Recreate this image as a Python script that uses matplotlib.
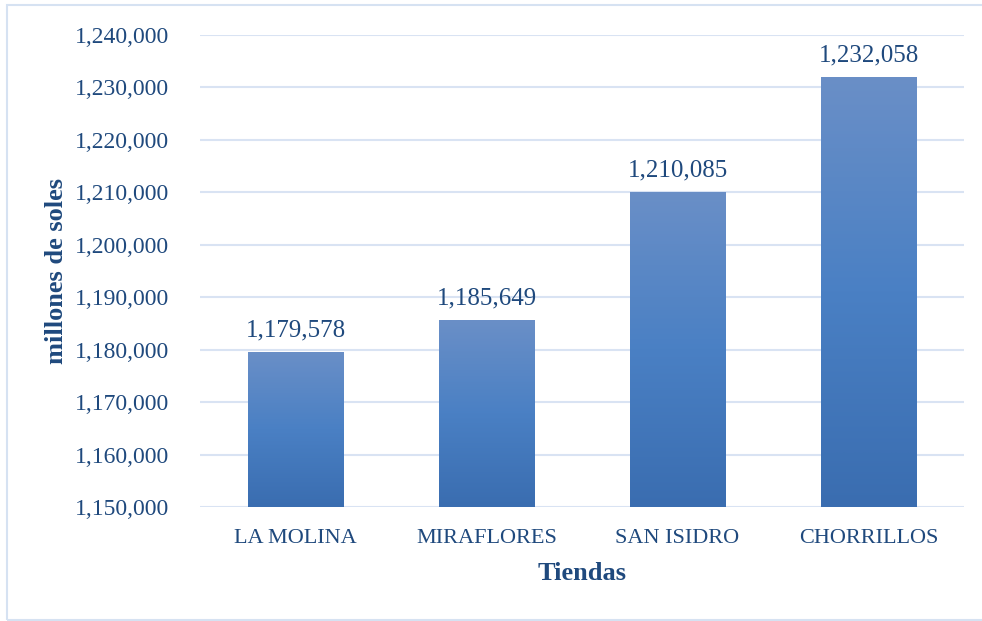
import matplotlib
matplotlib.use("Agg")
import matplotlib.pyplot as plt
import numpy as np
from matplotlib.patches import Rectangle
from matplotlib.colors import LinearSegmentedColormap

categories = ["LA MOLINA", "MIRAFLORES", "SAN ISIDRO", "CHORRILLOS"]
values = [1179578, 1185649, 1210085, 1232058]
yticks = [1150000, 1160000, 1170000, 1180000, 1190000, 1200000,
          1210000, 1220000, 1230000, 1240000]

text_color = "#1F497D"
grid_color = "#D9E3F3"
top_color = "#6A8FC7"
bottom_color = "#3A6DB0"

plt.rcParams['font.family'] = ['Liberation Serif', 'DejaVu Serif']

fig = plt.figure(figsize=(9.82, 6.21), dpi=100)
ax = fig.add_axes([200/982, 1-507/621, 764/982, 472/621])

ymin, ymax = 1150000, 1240000
ax.set_ylim(ymin, ymax)
ax.set_xlim(-0.5, len(categories) - 0.5)

x = np.arange(len(categories))
bars = ax.bar(x, [v - ymin for v in values], bottom=ymin, width=0.5,
              color="none", edgecolor="none", zorder=3)

cmap = LinearSegmentedColormap.from_list("g", [bottom_color, "#4A80C4", top_color])
grad = np.linspace(0, 1, 256).reshape(-1, 1)
for b, v in zip(bars, values):
    x0 = b.get_x()
    w = b.get_width()
    im = ax.imshow(grad, cmap=cmap, origin="lower", aspect="auto",
                   extent=[x0, x0 + w, ymin, v], zorder=3,
                   interpolation="bicubic")
    im.set_clip_path(b)
    ax.text(x0 + w/2, v + 2000, f"{v:,}", ha="center", va="bottom",
            fontsize=18, color=text_color, zorder=4)

ax.set_xlim(-0.5, len(categories) - 0.5)
ax.set_ylim(ymin, ymax)

ax.set_yticks(yticks)
ax.set_yticklabels([f"{t:,}" for t in yticks])
ax.set_xticks(x)
ax.set_xticklabels(categories)
ax.tick_params(axis="y", length=0, labelsize=17, colors=text_color, pad=22)
ax.tick_params(axis="x", length=0, labelsize=16, colors=text_color, pad=16)
ax.yaxis.grid(True, color=grid_color, linewidth=1.5, zorder=0)
ax.set_axisbelow(True)
for s in ax.spines.values():
    s.set_visible(False)

ax.set_ylabel("millones de soles", fontsize=19, fontweight="bold",
              color=text_color)
ax.yaxis.label.set_va("center")
ax.yaxis.set_label_coords(-(200-57)/764, 0.5)
ax.set_xlabel("Tiendas", fontsize=19, fontweight="bold", color=text_color)
ax.xaxis.label.set_va("center")
ax.xaxis.set_label_coords(0.5, -(574-507)/472)

fig.patches.append(Rectangle((7/982, 1-620/621), 1.0, 615/621,
                             transform=fig.transFigure, fill=False,
                             edgecolor="#D6E2F2", linewidth=1.5))

fig.savefig("out.png", dpi=100)
